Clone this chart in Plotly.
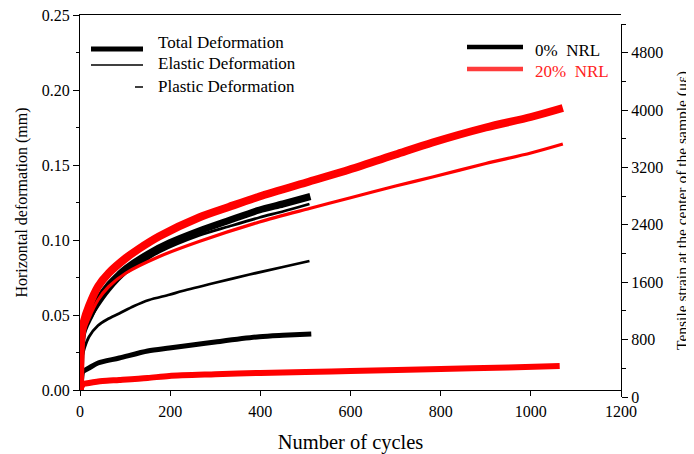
import plotly.graph_objects as go

# ---------------- data ----------------
# 0% NRL
n_b_total = [0, 1, 3, 6, 12, 20, 40, 64, 87, 102, 153, 198, 264, 330, 398, 450, 511]
b_total   = [0, 0.015, 0.030, 0.038, 0.043, 0.048, 0.060, 0.070, 0.077, 0.081, 0.091, 0.098, 0.106, 0.113, 0.120, 0.124, 0.129]
n_b_el_up = [0, 2, 5, 10, 20, 40, 64, 102, 153, 176, 264, 330, 398, 450, 509]
b_el_up   = [0, 0.020, 0.032, 0.040, 0.046, 0.056, 0.066, 0.078, 0.088, 0.092, 0.103, 0.109, 0.115, 0.119, 0.124]
n_b_el    = [0, 2, 5, 10, 20, 40, 60, 87, 120, 153, 198, 227, 300, 376, 450, 509]
b_el      = [0, 0.012, 0.022, 0.028, 0.0355, 0.043, 0.047, 0.051, 0.056, 0.060, 0.0635, 0.066, 0.0715, 0.077, 0.082, 0.086]
n_b_pl    = [0, 3, 6, 10, 20, 40, 87, 150, 198, 249, 300, 398, 450, 513]
b_pl      = [0, 0.006, 0.012, 0.013, 0.0147, 0.018, 0.0213, 0.026, 0.028, 0.030, 0.032, 0.0355, 0.0365, 0.0374]
# 20% NRL
n_r_total = [0, 1, 3, 8, 20, 40, 64, 102, 130, 176, 264, 330, 398, 509, 598, 700, 782, 900, 1000, 1071]
r_total   = [0, 0.020, 0.035, 0.045, 0.056, 0.069, 0.078, 0.088, 0.094, 0.1025, 0.115, 0.122, 0.129, 0.139, 0.147, 0.157, 0.165, 0.175, 0.182, 0.188]
n_r_el    = [0, 2, 5, 10, 20, 40, 64, 102, 176, 264, 398, 509, 598, 700, 782, 900, 1000, 1071]
r_el      = [0, 0.020, 0.030, 0.040, 0.048, 0.060, 0.069, 0.078, 0.089, 0.099, 0.112, 0.121, 0.128, 0.136, 0.142, 0.151, 0.158, 0.164]
n_r_pl    = [0, 3, 8, 20, 50, 87, 150, 198, 300, 400, 500, 600, 800, 950, 1064]
r_pl      = [0, 0.002, 0.004, 0.0047, 0.006, 0.0067, 0.008, 0.0094, 0.0105, 0.0114, 0.012, 0.0127, 0.014, 0.015, 0.016]

x_ticks = [0, 200, 400, 600, 800, 1000, 1200]
y_ticks = [0.00, 0.05, 0.10, 0.15, 0.20, 0.25]
y2_ticks = [0, 800, 1600, 2400, 3200, 4000, 4800]

legend_left = ["Total Deformation", "Elastic Deformation", "Plastic Deformation"]
legend_right = ["0%\u00a0 NRL", "20%\u00a0 NRL"]

# ---------------- figure ----------------
OFF = 8                      # the page body has an 8px margin
W, H = 694 - OFF, 454 - OFF
L, T = 80 - OFF, 15 - OFF
R = W - (621 - OFF)
B = H - (397 - OFF)
PW, PH = W - L - R, H - T - B
FONT = "Liberation Serif, Times New Roman, serif"

def px(xw):   # window pixel -> paper fraction
    return (xw - OFF - L) / PW

def py(yw):
    return (H - B - (yw - OFF)) / PH

RED = "#ff0000"
fig = go.Figure()

def add(xs, ys, color, width):
    fig.add_trace(go.Scatter(x=xs, y=ys, mode="lines", line=dict(color=color, width=width, shape="spline", smoothing=0.8),
                             showlegend=False, hoverinfo="skip"))

# empty trace so the right axis is built (drawn first)
fig.add_trace(go.Scatter(x=[None], y=[None], yaxis="y2", showlegend=False, hoverinfo="skip"))
add(n_b_pl, b_pl, "black", 5)
add(n_b_el, b_el, "black", 2.8)
add(n_b_el_up, b_el_up, "black", 2.8)
add(n_b_total, b_total, "black", 7)
add(n_r_pl, r_pl, RED, 6)
add(n_r_el, r_el, RED, 3.2)
add(n_r_total, r_total, RED, 8)

TF = dict(size=16)
fig.update_layout(
    width=W, height=H, margin=dict(l=L, r=R, t=T, b=B, autoexpand=False),
    paper_bgcolor="white", plot_bgcolor="rgba(0,0,0,0)",
    font=dict(family=FONT, size=16, color="black"),
    showlegend=False,
    xaxis=dict(range=[0, 1200], tickvals=x_ticks, ticktext=[str(v) for v in x_ticks],
               showline=True, linecolor="black", linewidth=1.3, mirror=True,
               ticks="outside", ticklen=5, tickcolor="black", showgrid=False, zeroline=False,
               ticklabelstandoff=2, tickfont=TF, automargin=False, ticklabeloverflow="allow",
               title=dict(text="Number of cycles", font=dict(size=20.5), standoff=15),
               anchor="y"),
    yaxis=dict(range=[0, 0.25], domain=[py(390), 1], tickvals=y_ticks,
               ticktext=["%.2f" % v for v in y_ticks],
               showline=True, linecolor="black", linewidth=1.3,
               ticks="outside", ticklen=6, tickcolor="black", showgrid=False, zeroline=False,
               minor=dict(dtick=0.025, ticks="outside", ticklen=3, tickcolor="black", showgrid=False),
               tickfont=TF, automargin=False, ticklabeloverflow="allow",
               title=dict(text="Horizontal deformation (mm)", font=dict(size=16), standoff=10)),
    yaxis2=dict(range=[0, 5200], domain=[0, py(24)], anchor="free", position=1, side="right",
                tickvals=y2_ticks, ticktext=[str(v) for v in y2_ticks],
                showline=True, linecolor="black", linewidth=1.3,
                ticks="outside", ticklen=6, tickcolor="black", showgrid=False, zeroline=False,
                minor=dict(dtick=400, ticks="outside", ticklen=4, tickcolor="black", showgrid=False),
                tickfont=TF, automargin=False, autoshift=False, ticklabeloverflow="allow",
                title=dict(text="Tensile strain at the center of the sample (\u03bc\u03b5)", font=dict(size=15.5), standoff=13)),
)

# ---------------- legends (drawn as shapes + text) ----------------
shapes = []
annos = []
sw = [(91, 143, 49, 5), (91, 143, 65, 1.3), (135, 143, 87, 1.5)]
ty = [43, 63, 87]
for (x0, x1, yy, w), t, yt in zip(sw, legend_left, ty):
    shapes.append(dict(type="line", xref="paper", yref="paper", x0=px(x0), x1=px(x1), y0=py(yy), y1=py(yy),
                       line=dict(color="black", width=w)))
    annos.append(dict(xref="paper", yref="paper", x=px(156), y=py(yt), text=t, showarrow=False,
                      xanchor="left", yanchor="middle", font=dict(size=17, family=FONT, color="black")))
for (yy, yt, col, tcol), t in zip([(47, 50, "black", "black"), (69, 71, "#ff3b3b", "#ff2020")], legend_right):
    shapes.append(dict(type="line", xref="paper", yref="paper", x0=px(467), x1=px(523), y0=py(yy), y1=py(yy),
                       line=dict(color=col, width=4.5)))
    annos.append(dict(xref="paper", yref="paper", x=px(533), y=py(yt), text=t, showarrow=False,
                      xanchor="left", yanchor="middle", font=dict(size=17, family=FONT, color=tcol)))

fig.update_layout(shapes=shapes, annotations=annos)
fig.write_html("out.html")
